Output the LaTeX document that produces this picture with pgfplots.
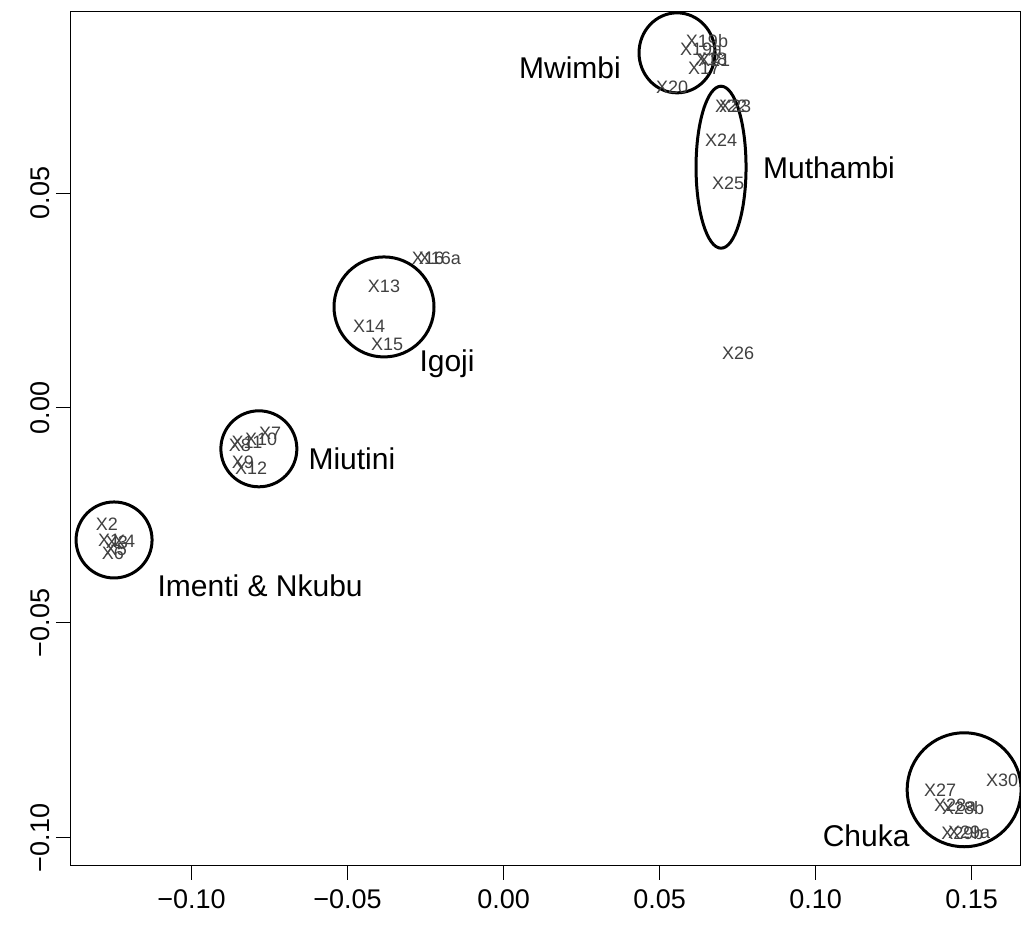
\documentclass[border=0pt]{standalone}
\usepackage{fontspec}
\setmainfont{Liberation Sans}
\usepackage{pgfplots}
\pgfplotsset{compat=1.18}
\usepackage{pgfplotstable}

\pgfplotstableread{
x y label
0.0652 0.0853 X19b
0.0633 0.0835 X19a
0.0665 0.0812 X18
0.0675 0.0809 X21
0.0643 0.0791 X17
0.0540 0.0747 X20
0.0729 0.0702 X22
0.0742 0.0702 X23
0.0697 0.0623 X24
0.0720 0.0523 X25
-0.0242 0.0349 X16
-0.0204 0.0349 X16a
-0.0383 0.0284 X13
-0.0431 0.0191 X14
-0.0373 0.0149 X15
0.0752 0.0126 X26
-0.0748 -0.0060 X7
-0.0777 -0.0074 X10
-0.0822 -0.0081 X11
-0.0845 -0.0086 X8
-0.0835 -0.0126 X9
-0.0809 -0.0140 X12
-0.1271 -0.0270 X2
-0.1264 -0.0307 X1
-0.1239 -0.0312 X3
-0.1216 -0.0309 X4
-0.1242 -0.0328 X5
-0.1252 -0.0337 X6
0.1399 -0.0888 X27
0.1447 -0.0923 X28a
0.1473 -0.0930 X28b
0.1492 -0.0988 X29a
0.1470 -0.0988 X29b
0.1598 -0.0867 X30
}\pts

\begin{document}
\begin{tikzpicture}
\begin{axis}[
  scale only axis, width=949pt, height=853pt,
  xmin=-0.1386, xmax=0.1655, ymin=-0.1063, ymax=0.0921,
  xtick={-0.10,-0.05,0,0.05,0.10,0.15},
  xticklabels={−0.10,−0.05,0.00,0.05,0.10,0.15},
  ytick={-0.10,-0.05,0,0.05},
  yticklabels={−0.10,−0.05,0.00,0.05},
  tick pos=left, tick align=outside,
  major tick length=15pt,
  tick style={black, line width=1pt},
  axis line style={black, line width=1pt},
  ticklabel style={font=\fontsize{27}{27}\selectfont},
  xticklabel style={yshift=-6pt},
  yticklabel style={rotate=90, anchor=south, yshift=3pt},
]
\addplot[mark=none, draw=none, nodes near coords, point meta=explicit symbolic,
  nodes near coords style={anchor=center, inner sep=0pt, font=\fontsize{18}{18}\selectfont, text=black!75}]
  table[x=x, y=y, meta=label]{\pts};

\draw[line width=3pt] (axis cs:0.0556,0.0826) ellipse [x radius=38pt, y radius=40pt];
\draw[line width=3pt] (axis cs:0.0697,0.0560) ellipse [x radius=25pt, y radius=81pt];
\draw[line width=3pt] (axis cs:-0.0383,0.0235) ellipse [x radius=50pt, y radius=50pt];
\draw[line width=3pt] (axis cs:-0.0784,-0.0095) ellipse [x radius=38pt, y radius=38pt];
\draw[line width=3pt] (axis cs:-0.1248,-0.0307) ellipse [x radius=38pt, y radius=38pt];
\draw[line width=3pt] (axis cs:0.1476,-0.0888) ellipse [x radius=57pt, y radius=57pt];

\begin{scope}[every node/.style={font=\fontsize{30}{30}\selectfont, inner sep=0pt}]
\node at (axis cs:0.0213,0.0791) {Mwimbi};
\node at (axis cs:0.1043,0.0558) {Muthambi};
\node at (axis cs:-0.0181,0.0102) {Igoji};
\node at (axis cs:-0.0486,-0.0119) {Miutini};
\node at (axis cs:-0.0780,-0.0414) {Imenti \& Nkubu};
\node at (axis cs:0.1162,-0.0995) {Chuka};
\end{scope}
\end{axis}
\path (current axis.south west) ++(-71pt,-65pt) rectangle ++(1021pt,930pt);
\end{tikzpicture}
\end{document}
